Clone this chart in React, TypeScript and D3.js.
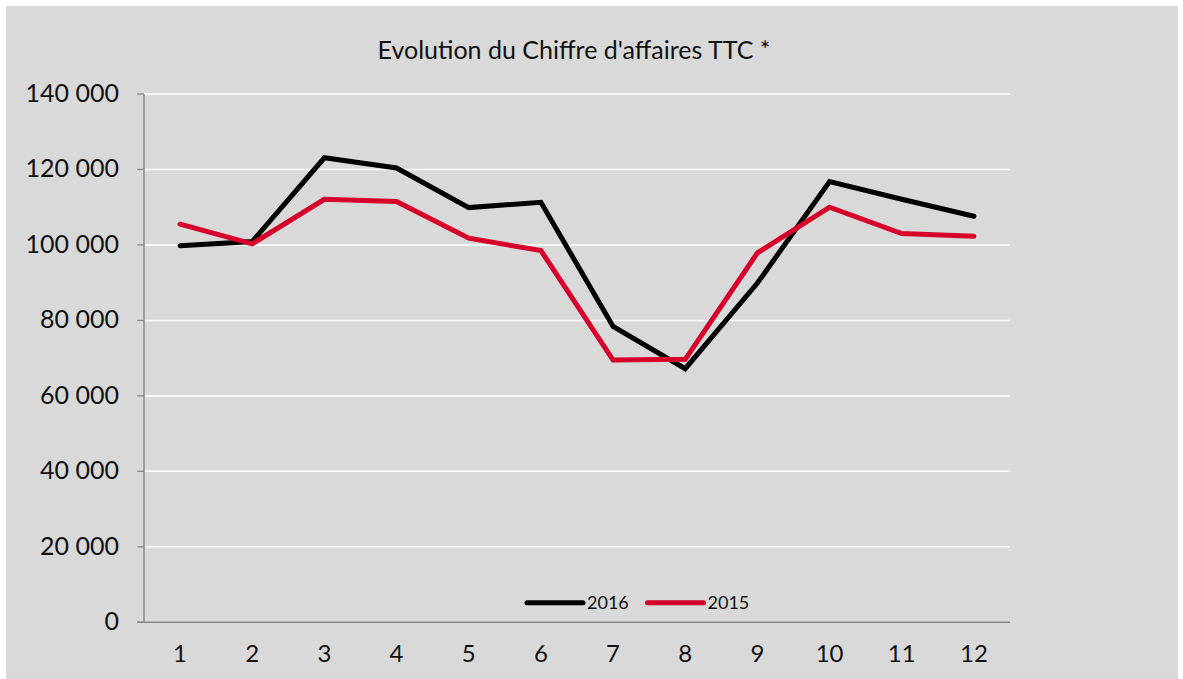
import React from "react";
import * as d3 from "d3";

const months = ["1", "2", "3", "4", "5", "6", "7", "8", "9", "10", "11", "12"];
const sales2016 = [99800, 100900, 123100, 120400, 109900, 111300, 78400, 67200, 89900, 116800, 112100, 107600];
const sales2015 = [105500, 100300, 112100, 111500, 101800, 98500, 69500, 69700, 97900, 110000, 103000, 102300];
const yTicks = [0, 20000, 40000, 60000, 80000, 100000, 120000, 140000];
const seriesNames = ["2016", "2015"];
const seriesColors = ["#000000", "#d7002b"];

const W = 1183;
const H = 679;
const left = 144;
const right = 1010;
const top = 94;
const bottom = 622.3;
const font = "Lato, 'Open Sans', sans-serif";

export default function App() {
  const x = d3.scaleBand<string>().domain(months).range([left, right]);
  const y = d3.scaleLinear().domain([0, 140000]).range([bottom, top]);
  const fmt = (v: number) => d3.format(",")(v).replace(/,/g, " ");
  const line = d3
    .line<number>()
    .x((_, i) => (x(months[i]) as number) + x.bandwidth() / 2)
    .y((d) => y(d));
  const series = [sales2016, sales2015];

  return (
    <svg
      width={W}
      height={H}
      style={{ position: "absolute", left: 0, top: 0 }}
      fontFamily={font}
    >
      <rect x={0} y={0} width={W} height={H} fill="#ffffff" />
      <rect x={6} y={6} width={1172} height={673} fill="#d9d9d9" />
      <text x={574} y={59} textAnchor="middle" fontSize={25} fill="#111">
        Evolution du Chiffre d'affaires TTC *
      </text>
      {yTicks.map((t) =>
        t === 0 ? null : (
          <line key={"g" + t} x1={left} x2={right} y1={y(t)} y2={y(t)} stroke="#ffffff" strokeWidth={1.5} />
        )
      )}
      {yTicks.map((t) => (
        <g key={"t" + t}>
          <line x1={137} x2={left} y1={y(t)} y2={y(t)} stroke="#898989" strokeWidth={1.3} />
          <text x={119} y={y(t) + 8} textAnchor="end" fontSize={25} fill="#111">
            {fmt(t)}
          </text>
        </g>
      ))}
      <line x1={left} x2={left} y1={top} y2={bottom} stroke="#898989" strokeWidth={1.5} />
      <line x1={left - 7} x2={right} y1={bottom} y2={bottom} stroke="#898989" strokeWidth={1.5} />
      {months.map((m) => (
        <text
          key={m}
          x={(x(m) as number) + x.bandwidth() / 2}
          y={662}
          textAnchor="middle"
          fontSize={24}
          fill="#111"
        >
          {m}
        </text>
      ))}
      {series.map((s, i) => (
        <path
          key={seriesNames[i]}
          d={line(s) as string}
          fill="none"
          stroke={seriesColors[i]}
          strokeWidth={5}
          strokeLinejoin="miter"
          strokeLinecap="round"
        />
      ))}
      {seriesNames.map((n, i) => {
        const lx = 527 + i * 120.5;
        return (
          <g key={"l" + n}>
            <line x1={lx} x2={lx + 56} y1={602.7} y2={602.7} stroke={seriesColors[i]} strokeWidth={5} strokeLinecap="round" />
            <text x={lx + 60} y={609} fontSize={18} fill="#111">
              {n}
            </text>
          </g>
        );
      })}
    </svg>
  );
}
